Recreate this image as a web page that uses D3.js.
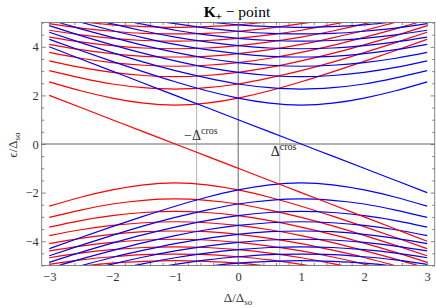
<!DOCTYPE html>
<html><head><meta charset="utf-8">
<script src="https://cdn.jsdelivr.net/npm/d3@7"></script>
<style>body{margin:0;background:#fff} svg{display:block}</style>
</head><body><svg id="c" width="436" height="308"></svg>
<script>
const deltas = [-3, -2.5, -2, -1.5, -1, -0.5, 0, 0.5, 1, 1.5, 2, 2.5, 3];
const redLine  = [2, 1.5, 1, 0.5, 0, -0.5, -1, -1.5, -2, -2.5, -3, -3.5, -4];
const blueLine = [4, 3.5, 3, 2.5, 2, 1.5, 1, 0.5, 0, -0.5, -1, -1.5, -2];
const redUpper = [
  [2.56, 2.19, 1.89, 1.68, 1.60, 1.68, 1.89, 2.19, 2.56, 2.97, 3.40, 3.85, 4.31],
  [3.02, 2.72, 2.47, 2.32, 2.26, 2.32, 2.47, 2.72, 3.02, 3.37, 3.76, 4.17, 4.60],
  [3.42, 3.15, 2.95, 2.82, 2.77, 2.82, 2.95, 3.15, 3.42, 3.73, 4.08, 4.46, 4.87],
  [3.77, 3.53, 3.35, 3.24, 3.20, 3.24, 3.35, 3.53, 3.77, 4.06, 4.39, 4.74, 5.12],
  [4.10, 3.88, 3.72, 3.61, 3.58, 3.61, 3.72, 3.88, 4.10, 4.37, 4.67, 5.01, 5.37],
  [4.40, 4.20, 4.05, 3.95, 3.92, 3.95, 4.05, 4.20, 4.40, 4.65, 4.94, 5.26, 5.60],
  [4.68, 4.49, 4.35, 4.26, 4.23, 4.26, 4.35, 4.49, 4.68, 4.92, 5.19, 5.49, 5.82],
  [4.95, 4.77, 4.64, 4.55, 4.53, 4.55, 4.64, 4.77, 4.95, 5.17, 5.43, 5.72, 6.04],
  [5.20, 5.03, 4.90, 4.83, 4.80, 4.83, 4.90, 5.03, 5.20, 5.41, 5.66, 5.94, 6.25]
];
const redLower = [
  [-2.56, -2.19, -1.89, -1.68, -1.60, -1.68, -1.89, -2.19, -2.56, -2.97, -3.40, -3.85, -4.31],
  [-3.02, -2.72, -2.47, -2.32, -2.26, -2.32, -2.47, -2.72, -3.02, -3.37, -3.76, -4.17, -4.60],
  [-3.42, -3.15, -2.95, -2.82, -2.77, -2.82, -2.95, -3.15, -3.42, -3.73, -4.08, -4.46, -4.87],
  [-3.77, -3.53, -3.35, -3.24, -3.20, -3.24, -3.35, -3.53, -3.77, -4.06, -4.39, -4.74, -5.12],
  [-4.10, -3.88, -3.72, -3.61, -3.58, -3.61, -3.72, -3.88, -4.10, -4.37, -4.67, -5.01, -5.37],
  [-4.40, -4.20, -4.05, -3.95, -3.92, -3.95, -4.05, -4.20, -4.40, -4.65, -4.94, -5.26, -5.60],
  [-4.68, -4.49, -4.35, -4.26, -4.23, -4.26, -4.35, -4.49, -4.68, -4.92, -5.19, -5.49, -5.82],
  [-4.95, -4.77, -4.64, -4.55, -4.53, -4.55, -4.64, -4.77, -4.95, -5.17, -5.43, -5.72, -6.04],
  [-5.20, -5.03, -4.90, -4.83, -4.80, -4.83, -4.90, -5.03, -5.20, -5.41, -5.66, -5.94, -6.25]
];
const blueUpper = [
  [4.31, 3.85, 3.40, 2.97, 2.56, 2.19, 1.89, 1.68, 1.60, 1.68, 1.89, 2.19, 2.56],
  [4.60, 4.17, 3.76, 3.37, 3.02, 2.72, 2.47, 2.32, 2.26, 2.32, 2.47, 2.72, 3.02],
  [4.87, 4.46, 4.08, 3.73, 3.42, 3.15, 2.95, 2.82, 2.77, 2.82, 2.95, 3.15, 3.42],
  [5.12, 4.74, 4.39, 4.06, 3.77, 3.53, 3.35, 3.24, 3.20, 3.24, 3.35, 3.53, 3.77],
  [5.37, 5.01, 4.67, 4.37, 4.10, 3.88, 3.72, 3.61, 3.58, 3.61, 3.72, 3.88, 4.10],
  [5.60, 5.26, 4.94, 4.65, 4.40, 4.20, 4.05, 3.95, 3.92, 3.95, 4.05, 4.20, 4.40],
  [5.82, 5.49, 5.19, 4.92, 4.68, 4.49, 4.35, 4.26, 4.23, 4.26, 4.35, 4.49, 4.68],
  [6.04, 5.72, 5.43, 5.17, 4.95, 4.77, 4.64, 4.55, 4.53, 4.55, 4.64, 4.77, 4.95],
  [6.25, 5.94, 5.66, 5.41, 5.20, 5.03, 4.90, 4.83, 4.80, 4.83, 4.90, 5.03, 5.20]
];
const blueLower = [
  [-4.31, -3.85, -3.40, -2.97, -2.56, -2.19, -1.89, -1.68, -1.60, -1.68, -1.89, -2.19, -2.56],
  [-4.60, -4.17, -3.76, -3.37, -3.02, -2.72, -2.47, -2.32, -2.26, -2.32, -2.47, -2.72, -3.02],
  [-4.87, -4.46, -4.08, -3.73, -3.42, -3.15, -2.95, -2.82, -2.77, -2.82, -2.95, -3.15, -3.42],
  [-5.12, -4.74, -4.39, -4.06, -3.77, -3.53, -3.35, -3.24, -3.20, -3.24, -3.35, -3.53, -3.77],
  [-5.37, -5.01, -4.67, -4.37, -4.10, -3.88, -3.72, -3.61, -3.58, -3.61, -3.72, -3.88, -4.10],
  [-5.60, -5.26, -4.94, -4.65, -4.40, -4.20, -4.05, -3.95, -3.92, -3.95, -4.05, -4.20, -4.40],
  [-5.82, -5.49, -5.19, -4.92, -4.68, -4.49, -4.35, -4.26, -4.23, -4.26, -4.35, -4.49, -4.68],
  [-6.04, -5.72, -5.43, -5.17, -4.95, -4.77, -4.64, -4.55, -4.53, -4.55, -4.64, -4.77, -4.95],
  [-6.25, -5.94, -5.66, -5.41, -5.20, -5.03, -4.90, -4.83, -4.80, -4.83, -4.90, -5.03, -5.20]
];
const xTicks = [-3, -2, -1, 0, 1, 2, 3];
const yTicks = [-4, -2, 0, 2, 4];
const deltaCros = 0.66;

const svg = d3.select("#c");
const x = d3.scaleLinear().domain([-3.12, 3.12]).range([41.7, 434.7]);
const y = d3.scaleLinear().domain([-5, 5]).range([265.5, 22.5]);
const X0 = x.range()[0], X1 = x.range()[1], Y0 = y.range()[1], Y1 = y.range()[0];
const serif = "'Liberation Serif', 'DejaVu Serif', serif";
const fmt = d => d < 0 ? "\u2212" + (-d) : "" + d;

svg.append("clipPath").attr("id", "clip").append("rect")
  .attr("x", X0).attr("y", Y0).attr("width", X1 - X0).attr("height", Y1 - Y0);

// grid lines
const g = svg.append("g");
g.append("line").attr("x1", X0).attr("x2", X1).attr("y1", y(0)).attr("y2", y(0)).attr("stroke", "#555").attr("stroke-width", 0.9);
g.append("line").attr("x1", x(0)).attr("x2", x(0)).attr("y1", Y0).attr("y2", Y1).attr("stroke", "#555").attr("stroke-width", 0.9);
[-deltaCros, deltaCros].forEach(v =>
  g.append("line").attr("x1", x(v)).attr("x2", x(v)).attr("y1", Y0).attr("y2", Y1).attr("stroke", "#aaa").attr("stroke-width", 0.9));

// curves
const line = d3.line().x((d, i) => x(deltas[i])).y(d => y(d)).curve(d3.curveNatural);
const plot = svg.append("g").attr("clip-path", "url(#clip)").attr("fill", "none").attr("stroke-width", 1.2);
const series = [];
redUpper.forEach(s => series.push({v: s, c: "#ff0000"}));
blueUpper.forEach(s => series.push({v: s, c: "#0000ff"}));
redLower.forEach(s => series.push({v: s, c: "#ff0000"}));
blueLower.forEach(s => series.push({v: s, c: "#0000ff"}));
series.push({v: redLine, c: "#ff0000"});
series.push({v: blueLine, c: "#0000ff"});
plot.selectAll("path").data(series).join("path")
  .attr("d", d => line(d.v)).attr("stroke", d => d.c);

// frame + ticks
const minorX = d3.range(-3, 3.01, 0.2).map(v => +v.toFixed(2)).filter(v => Math.abs(v - Math.round(v)) > 1e-6);
const minorY = d3.range(-5, 5.01, 0.5).map(v => +v.toFixed(2)).filter(v => Math.abs(v / 2 - Math.round(v / 2)) > 1e-6);
function style(sel) {
  sel.select(".domain").remove();
  sel.selectAll(".tick line").attr("stroke", "#666").attr("stroke-width", 0.8);
  sel.selectAll("text").attr("font-family", serif).attr("font-size", 12.5).attr("fill", "#333");
}
svg.append("g").attr("transform", `translate(0,${Y1})`)
  .call(d3.axisBottom(x).tickValues(xTicks).tickSizeInner(-4).tickSizeOuter(0).tickPadding(7).tickFormat(fmt)).call(style);
svg.append("g").attr("transform", `translate(0,${Y1})`)
  .call(d3.axisBottom(x).tickValues(minorX).tickSizeInner(-2.5).tickSizeOuter(0).tickFormat("")).call(style);
svg.append("g").attr("transform", `translate(0,${Y0})`)
  .call(d3.axisTop(x).tickValues(xTicks).tickSizeInner(-4).tickSizeOuter(0).tickFormat("")).call(style);
svg.append("g").attr("transform", `translate(0,${Y0})`)
  .call(d3.axisTop(x).tickValues(minorX).tickSizeInner(-2.5).tickSizeOuter(0).tickFormat("")).call(style);
svg.append("g").attr("transform", `translate(${X0},0)`)
  .call(d3.axisLeft(y).tickValues(yTicks).tickSizeInner(-4).tickSizeOuter(0).tickPadding(3).tickFormat(fmt)).call(style);
svg.append("g").attr("transform", `translate(${X0},0)`)
  .call(d3.axisLeft(y).tickValues(minorY).tickSizeInner(-2.5).tickSizeOuter(0).tickFormat("")).call(style);
svg.append("g").attr("transform", `translate(${X1},0)`)
  .call(d3.axisRight(y).tickValues(yTicks).tickSizeInner(-4).tickSizeOuter(0).tickFormat("")).call(style);
svg.append("g").attr("transform", `translate(${X1},0)`)
  .call(d3.axisRight(y).tickValues(minorY).tickSizeInner(-2.5).tickSizeOuter(0).tickFormat("")).call(style);
svg.append("rect").attr("x", X0).attr("y", Y0).attr("width", X1 - X0).attr("height", Y1 - Y0)
  .attr("fill", "none").attr("stroke", "#777").attr("stroke-width", 0.9);

// title
const t = svg.append("text").attr("x", 237).attr("y", 17).attr("text-anchor", "middle")
  .attr("font-family", serif).attr("font-size", 15.5).attr("fill", "#000");
t.append("tspan").attr("font-weight", "bold").text("K");
t.append("tspan").attr("font-weight", "bold").attr("font-size", 10.5).attr("dy", 3).text("+");
t.append("tspan").attr("dy", -3).text(" \u2212 point");

// axis labels
const xl = svg.append("text").attr("x", 238).attr("y", 302).attr("text-anchor", "middle")
  .attr("font-family", serif).attr("font-size", 13).attr("fill", "#333");
xl.append("tspan").text("\u0394/\u0394");
xl.append("tspan").attr("font-size", 9).attr("dy", 3).text("so");
const yl = svg.append("text").attr("transform", "translate(17,145) rotate(-90)").attr("text-anchor", "middle")
  .attr("font-family", serif).attr("font-size", 13).attr("fill", "#333");
yl.append("tspan").text("\u03f5/\u0394");
yl.append("tspan").attr("font-size", 9).attr("dy", 3).text("so");

// crossing labels
const l1 = svg.append("text").attr("x", x(-deltaCros) + 21).attr("y", 140).attr("text-anchor", "end")
  .attr("font-family", serif).attr("font-size", 14).attr("fill", "#333");
l1.append("tspan").text("\u2212\u0394");
l1.append("tspan").attr("font-size", 10).attr("dy", -6).text("cros");
const l2 = svg.append("text").attr("x", x(deltaCros) - 9).attr("y", 156)
  .attr("font-family", serif).attr("font-size", 14).attr("fill", "#222");
l2.append("tspan").text("\u0394");
l2.append("tspan").attr("font-size", 10).attr("dy", -6).text("cros");
</script>
</body></html>
